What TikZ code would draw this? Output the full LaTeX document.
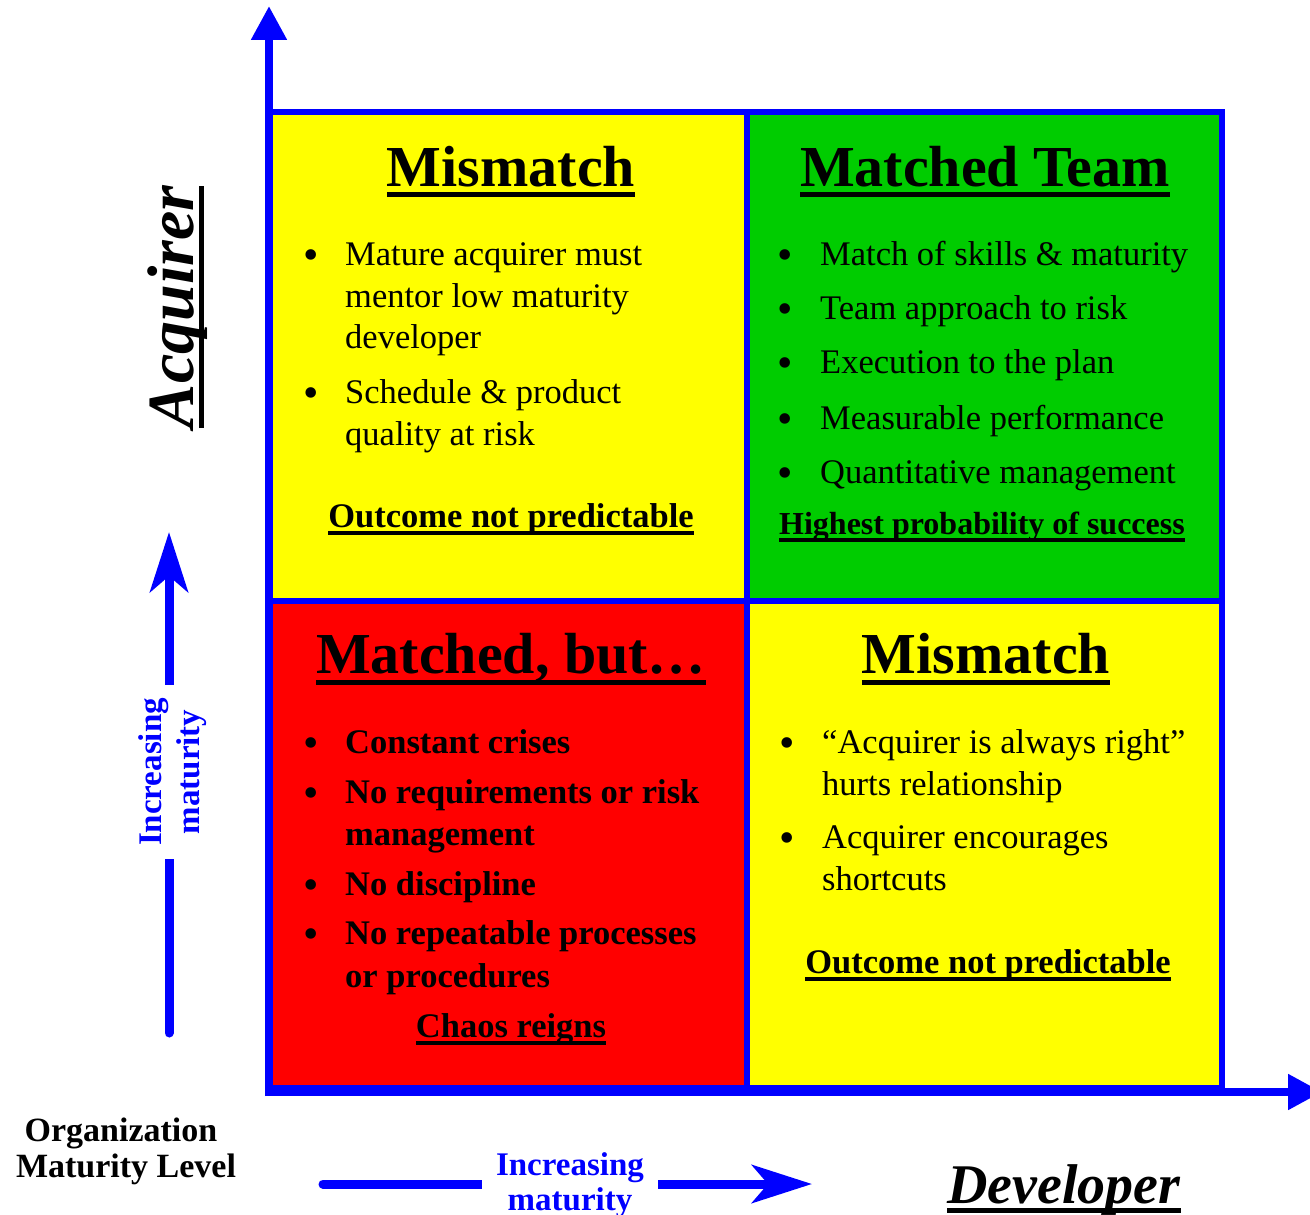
\documentclass[tikz,border=0pt]{standalone}
\usepackage{fontspec}
\setmainfont{Liberation Serif}
\usetikzlibrary{arrows.meta}
\definecolor{qyellow}{HTML}{FFFF00}
\definecolor{qgreen}{HTML}{00CC00}
\definecolor{qred}{HTML}{FF0000}
\definecolor{qblue}{HTML}{0000FF}
\newcommand\myul[3]{\begingroup\setbox0=\hbox{#3}\rlap{\vrule width\wd0 height -#1 depth #2\relax}\box0\endgroup}
\begin{document}
\begin{tikzpicture}[x=1pt,y=-1pt,
  qtitle/.style={font=\fontsize{58}{62}\selectfont\bfseries, anchor=base, inner sep=0pt},
  qitem/.style={font=\fontsize{34.5}{40}\selectfont, anchor=base west, inner sep=0pt},
  qbitem/.style={font=\fontsize{34.5}{40}\selectfont\bfseries, anchor=base west, inner sep=0pt},
  qbul/.style={font=\fontsize{44}{48}\selectfont, anchor=base, inner sep=0pt, yshift=-4pt},
  qoutc/.style={font=\fontsize{34.5}{40}\selectfont\bfseries, anchor=base, inner sep=0pt},
  gridline/.style={draw=qblue, line width=6pt},
  maxis/.style={draw=qblue, line width=8pt, -{Triangle[length=34pt,width=34pt]}},
  sarrow/.style={draw=qblue, line width=9pt, line cap=round, -{Stealth[length=60pt,width=38pt,inset=16pt]}},
  bluelbl/.style={font=\fontsize{33}{35}\selectfont\bfseries, text=qblue, align=center, fill=white, inner ysep=1pt}
]
\fill[white] (0,0) rectangle (1310,1215);
\useasboundingbox (0,0) rectangle (1310,1215);

% quadrants
\fill[qyellow] (270,112) rectangle (747,601);
\fill[qgreen]  (747,112) rectangle (1222,601);
\fill[qred]    (270,601) rectangle (747,1088);
\fill[qyellow] (747,601) rectangle (1222,1088);
\draw[gridline] (270,112) rectangle (1222,1088);
\draw[gridline] (747,112) -- (747,1088);
\draw[gridline] (270,601) -- (1222,601);

% main axes
\coordinate (origin) at (269,1096);
\coordinate (ytip) at (269,6);
\coordinate (horig) at (265,1092);
\coordinate (xtip) at (1322,1092);
\draw[maxis] (origin) -- (ytip);
\draw[maxis] (horig) -- (xtip);

% top-left quadrant
\node[qtitle] (t1) at (511,186) {\myul{5.5pt}{10.5pt}{Mismatch}};
\node[qbul] (b1a) at (311,265) {•};
\node[qitem] (i1a) at (345,265) {Mature acquirer must};
\node[qitem] (i1b) at (345,307) {mentor low maturity};
\node[qitem] (i1c) at (345,348) {developer};
\node[qbul] (b1b) at (311,403) {•};
\node[qitem] (i1d) at (345,403) {Schedule \& product};
\node[qitem] (i1e) at (345,445) {quality at risk};
\node[qoutc] (o1) at (511,527) {\myul{4pt}{7.5pt}{Outcome not predictable}};

% top-right quadrant
\node[qtitle] (t2) at (985,186) {\myul{5.5pt}{10.5pt}{Matched Team}};
\node[qbul] (b2a) at (785,265) {•};
\node[qitem] (i2a) at (820,265) {Match of skills \& maturity};
\node[qbul] (b2b) at (785,319) {•};
\node[qitem] (i2b) at (820,319) {Team approach to risk};
\node[qbul] (b2c) at (785,373) {•};
\node[qitem] (i2c) at (820,373) {Execution to the plan};
\node[qbul] (b2d) at (785,429) {•};
\node[qitem] (i2d) at (820,429) {Measurable performance};
\node[qbul] (b2e) at (785,483) {•};
\node[qitem] (i2e) at (820,483) {Quantitative management};
\node[qoutc, font=\fontsize{32}{38}\selectfont\bfseries] (o2) at (982,534) {\myul{4pt}{7.5pt}{Highest probability of success}};

% bottom-left quadrant
\node[qtitle] (t3) at (511,673) {\myul{6.5pt}{11.5pt}{Matched, but…}};
\node[qbul] (b3a) at (311,753) {•};
\node[qbitem] (i3a) at (345,753) {Constant crises};
\node[qbul] (b3b) at (311,803) {•};
\node[qbitem] (i3b) at (345,803) {No requirements or risk};
\node[qbitem] (i3c) at (345,845) {management};
\node[qbul] (b3c) at (311,895) {•};
\node[qbitem] (i3d) at (345,895) {No discipline};
\node[qbul] (b3d) at (311,944) {•};
\node[qbitem] (i3e) at (345,944) {No repeatable processes};
\node[qbitem] (i3f) at (345,987) {or procedures};
\node[qoutc] (o3) at (511,1037) {\myul{4pt}{7.5pt}{Chaos reigns}};

% bottom-right quadrant
\node[qtitle] (t4) at (986,673) {\myul{6.5pt}{11.5pt}{Mismatch}};
\node[qbul] (b4a) at (787,753) {•};
\node[qitem] (i4a) at (822,753) {“Acquirer is always right”};
\node[qitem] (i4b) at (822,795) {hurts relationship};
\node[qbul] (b4b) at (787,848) {•};
\node[qitem] (i4c) at (822,848) {Acquirer encourages};
\node[qitem] (i4d) at (822,890) {shortcuts};
\node[qoutc] (o4) at (988,973) {\myul{4pt}{7.5pt}{Outcome not predictable}};

% axis titles
\node[font=\fontsize{66}{70}\selectfont\bfseries\itshape, rotate=90, anchor=base, inner sep=0pt] (acq) at (193,307) {\myul{6pt}{11pt}{Acquirer}};
\node[font=\fontsize{56}{60}\selectfont\bfseries\itshape, anchor=base, inner sep=0pt] (dev) at (1064,1203) {\myul{5pt}{10pt}{Developer}};
\node[font=\fontsize{34}{36}\selectfont\bfseries, anchor=base, inner sep=0pt] (org1) at (121,1141) {Organization};
\node[font=\fontsize{34}{36}\selectfont\bfseries, anchor=base, inner sep=0pt] (org2) at (126,1177) {Maturity Level};

% increasing maturity arrows
\coordinate (va0) at (169,1033);
\coordinate (va1) at (169,532);
\draw[sarrow] (va0) -- (va1);
\node[bluelbl, rotate=90, font=\fontsize{33}{38}\selectfont\bfseries, inner xsep=13pt] (vinc) at (173,772) {Increasing\\maturity};

\coordinate (ha0) at (323,1184);
\coordinate (ha1) at (812,1184);
\draw[sarrow] (ha0) -- (ha1);
\node[bluelbl, inner xsep=14pt] (hinc) at (570,1185) {Increasing\\maturity};
\end{tikzpicture}
\end{document}
